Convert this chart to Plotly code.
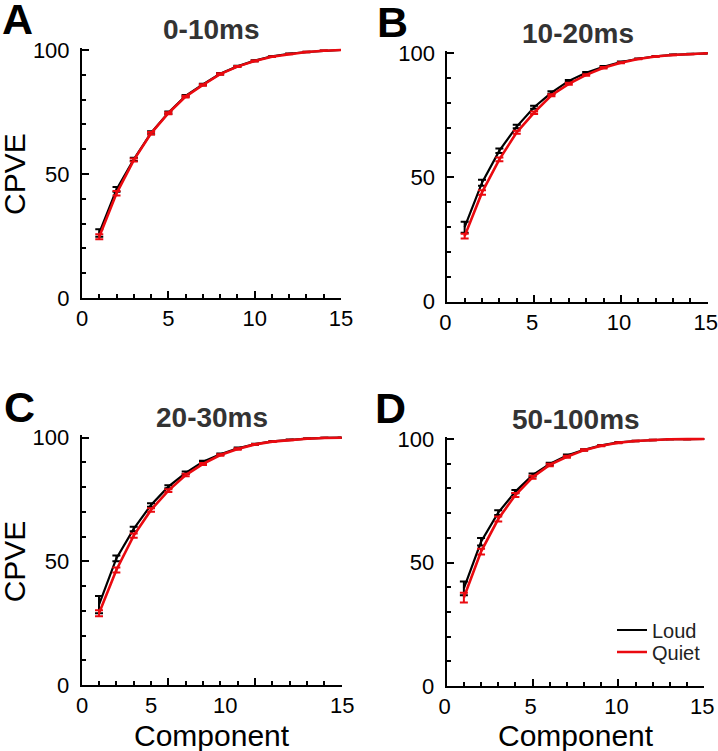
import plotly.graph_objects as go

W, H = 718, 751

components = list(range(1, 16))

# Panel A: 0-10ms
a_loud = [26.2, 43.8, 55.9, 66.6, 74.7, 81.5, 86.1, 90.4, 93.4, 95.7, 97.4, 98.5, 99.2, 99.7, 100.0]
a_loud_err = [1.5, 1.0, 0.7, 0.6, 0.5, 0.4, 0.3, 0.3, 0.2, 0.2, 0.1, 0.1, 0.1, 0.05, 0.0]
a_quiet = [24.7, 42.2, 55.6, 66.4, 74.5, 81.2, 85.9, 90.3, 93.3, 95.6, 97.3, 98.4, 99.2, 99.7, 100.0]
a_quiet_err = [1.0, 0.9, 0.6, 0.5, 0.4, 0.4, 0.3, 0.3, 0.2, 0.2, 0.1, 0.1, 0.1, 0.05, 0.0]

# Panel B: 10-20ms
b_loud = [30.0, 47.9, 60.8, 70.5, 78.3, 84.2, 88.9, 92.2, 94.6, 96.5, 97.8, 98.8, 99.4, 99.8, 100.0]
b_loud_err = [2.2, 1.2, 0.9, 0.7, 0.6, 0.5, 0.4, 0.3, 0.3, 0.2, 0.1, 0.1, 0.1, 0.05, 0.0]
b_quiet = [26.4, 44.0, 57.3, 68.2, 76.1, 83.1, 87.7, 91.3, 94.2, 96.2, 97.7, 98.7, 99.3, 99.7, 100.0]
b_quiet_err = [1.0, 0.9, 0.8, 0.6, 0.5, 0.4, 0.4, 0.3, 0.3, 0.2, 0.1, 0.1, 0.1, 0.05, 0.0]

# Panel C: 20-30ms
c_loud = [32.5, 51.2, 63.1, 72.8, 80.2, 85.8, 90.3, 93.3, 95.7, 97.4, 98.5, 99.2, 99.6, 99.9, 100.0]
c_loud_err = [3.5, 1.2, 0.9, 0.7, 0.6, 0.5, 0.4, 0.3, 0.3, 0.2, 0.1, 0.1, 0.1, 0.05, 0.0]
c_quiet = [29.0, 46.5, 60.4, 70.8, 78.6, 84.9, 89.4, 93.0, 95.4, 97.3, 98.4, 99.1, 99.6, 99.9, 100.0]
c_quiet_err = [1.2, 1.0, 0.9, 0.7, 0.6, 0.5, 0.4, 0.3, 0.3, 0.2, 0.1, 0.1, 0.1, 0.05, 0.0]

# Panel D: 50-100ms
d_loud = [39.5, 58.4, 70.2, 78.7, 85.4, 89.9, 93.3, 95.6, 97.4, 98.6, 99.2, 99.6, 99.9, 99.95, 100.0]
d_loud_err = [2.8, 1.5, 1.0, 0.7, 0.6, 0.5, 0.4, 0.3, 0.2, 0.2, 0.1, 0.1, 0.05, 0.05, 0.0]
d_quiet = [35.8, 54.4, 67.6, 77.3, 84.5, 89.5, 92.8, 95.5, 97.3, 98.5, 99.2, 99.6, 99.9, 99.95, 100.0]
d_quiet_err = [2.0, 1.2, 1.0, 0.8, 0.6, 0.5, 0.4, 0.3, 0.2, 0.2, 0.1, 0.1, 0.05, 0.05, 0.0]

panel_letters = ["A", "B", "C", "D"]
panel_titles = ["0-10ms", "10-20ms", "20-30ms", "50-100ms"]
series_names = ["Loud", "Quiet"]
x_tick_vals = [0, 5, 10, 15]
x_tick_text = ["0", "5", "10", "15"]
c_label_pos = [0, 4.0, 8.25, 15]   # where panel C's x labels sit in the original figure
y_tick_vals = [0, 50, 100]

BLACK = "#000000"
RED = "#ea0a10"
FONT = "Liberation Sans, Arial, sans-serif"

# pixel geometry of each panel: (x px at 0, x px at 15, y px at 0, y px at 100)
geom = [
    (82.0, 341.0, 298.0, 50.0),
    (447.3, 707.7, 301.7, 53.3),
    (81.7, 341.7, 685.0, 437.7),
    (446.7, 704.3, 686.0, 439.0),
]
letter_left = [0, 375, 2, 373]
YMAX = 101.0

data = [
    (a_loud, a_loud_err, a_quiet, a_quiet_err),
    (b_loud, b_loud_err, b_quiet, b_quiet_err),
    (c_loud, c_loud_err, c_quiet, c_quiet_err),
    (d_loud, d_loud_err, d_quiet, d_quiet_err),
]

fig = go.Figure()
layout = {}
annotations = []

for i, (g, (lv, le, qv, qe)) in enumerate(zip(geom, data)):
    n = i + 1
    xa = "x" if n == 1 else f"x{n}"
    ya = "y" if n == 1 else f"y{n}"
    x0, x15, y0, y100 = g
    ppu = (y0 - y100) / 100.0
    ytop = y0 - YMAX * ppu
    xdom = [x0 / W, x15 / W]
    ydom = [1 - y0 / H, 1 - ytop / H]

    fig.add_trace(go.Scatter(
        x=components, y=lv, mode="lines", name=series_names[0],
        line=dict(color=BLACK, width=2.2),
        error_y=dict(type="data", array=le, color=BLACK, thickness=2, width=4),
        xaxis=xa, yaxis=ya, showlegend=(n == 4), legend="legend",
    ))
    fig.add_trace(go.Scatter(
        x=components, y=qv, mode="lines", name=series_names[1],
        line=dict(color=RED, width=2.6),
        error_y=dict(type="data", array=qe, color=RED, thickness=2, width=4),
        xaxis=xa, yaxis=ya, showlegend=(n == 4), legend="legend2",
    ))

    xkey = "xaxis" if n == 1 else f"xaxis{n}"
    ykey = "yaxis" if n == 1 else f"yaxis{n}"
    layout[xkey] = dict(
        domain=xdom, range=[0, 15], anchor=ya, automargin=False,
        showline=True, linecolor=BLACK, linewidth=2,
        showgrid=False, zeroline=False,
        tickmode="array", tickvals=x_tick_vals, ticktext=x_tick_text,
        ticks="inside", ticklen=7, tickwidth=2, tickcolor=BLACK,
        minor=dict(dtick=1, tick0=0, ticks="inside", ticklen=4, tickwidth=2, tickcolor=BLACK, showgrid=False),
        tickfont=dict(family=FONT, size=22, color=BLACK),
        ticklabelstandoff=0, ticklabeloverflow="allow",
        ticklabelshift=(-2 if n in (2, 4) else 0),
        showticklabels=(n != 3),
        fixedrange=True,
    )
    layout[ykey] = dict(
        domain=ydom, range=[0, YMAX], anchor=xa, automargin=False,
        showline=True, linecolor=BLACK, linewidth=2,
        showgrid=False, zeroline=False,
        tickmode="array", tickvals=y_tick_vals,
        ticks="inside", ticklen=7, tickwidth=2, tickcolor=BLACK,
        minor=dict(dtick=10, tick0=0, ticks="inside", ticklen=4, tickwidth=2, tickcolor=BLACK, showgrid=False),
        tickfont=dict(family=FONT, size=22, color=BLACK),
        ticklabelstandoff=6, ticklabeloverflow="allow",
        fixedrange=True,
    )

    # panel title
    annotations.append(dict(
        text=f"<b>{panel_titles[i]}</b>", xref="paper", yref="paper",
        x=(x0 + x15) / 2 / W, y=1 - (y100 - 20) / H,
        xanchor="center", yanchor="middle", showarrow=False,
        font=dict(family=FONT, size=28, color="#333333"),
    ))
    # panel letter
    annotations.append(dict(
        text=f"<b>{panel_letters[i]}</b>", xref="paper", yref="paper",
        x=letter_left[i] / W, y=1 - (y100 - 31) / H,
        xanchor="left", yanchor="middle", showarrow=False,
        font=dict(family=FONT, size=43, color=BLACK),
    ))

# y-axis titles (left column)
for n in (1, 3):
    x0, x15, y0, y100 = geom[n - 1]
    annotations.append(dict(
        text="CPVE", xref="paper", yref="paper",
        x=14 / W, y=1 - ((y0 + y100) / 2) / H, textangle=-90,
        xanchor="center", yanchor="middle", showarrow=False,
        font=dict(family=FONT, size=30, color=BLACK),
    ))
# x-axis titles (bottom row)
for n in (3, 4):
    x0, x15, y0, y100 = geom[n - 1]
    annotations.append(dict(
        text="Component", xref="paper", yref="paper",
        x=(x0 + x15) / 2 / W, y=1 - 735 / H,
        xanchor="center", yanchor="middle", showarrow=False,
        font=dict(family=FONT, size=30, color=BLACK),
    ))

# panel C tick labels, placed as in the original figure
for pos, txt in zip(c_label_pos, x_tick_text):
    annotations.append(dict(
        text=txt, xref="x3", yref="paper", x=pos, y=1 - 705 / H,
        xanchor="center", yanchor="middle", showarrow=False,
        font=dict(family=FONT, size=22, color=BLACK),
    ))

legend_common = dict(
    xanchor="left", yanchor="middle",
    bgcolor="rgba(0,0,0,0)", borderwidth=0,
    font=dict(family=FONT, size=20, color="#222222"),
    itemwidth=30,
)

fig.update_layout(
    template="none",
    width=W, height=H, autosize=False,
    margin=dict(l=0, r=0, t=0, b=0, pad=0),
    paper_bgcolor="white", plot_bgcolor="rgba(0,0,0,0)",
    annotations=annotations,
    showlegend=True,
    legend=dict(x=612 / W, y=1 - 630 / H, **legend_common),
    legend2=dict(x=612 / W, y=1 - 652 / H, **legend_common),
    **layout,
)

fig.write_html(
    "out.html",
    config={"displayModeBar": False, "responsive": False},
    post_script="document.body.style.margin='0px';document.body.style.overflow='hidden';",
)
